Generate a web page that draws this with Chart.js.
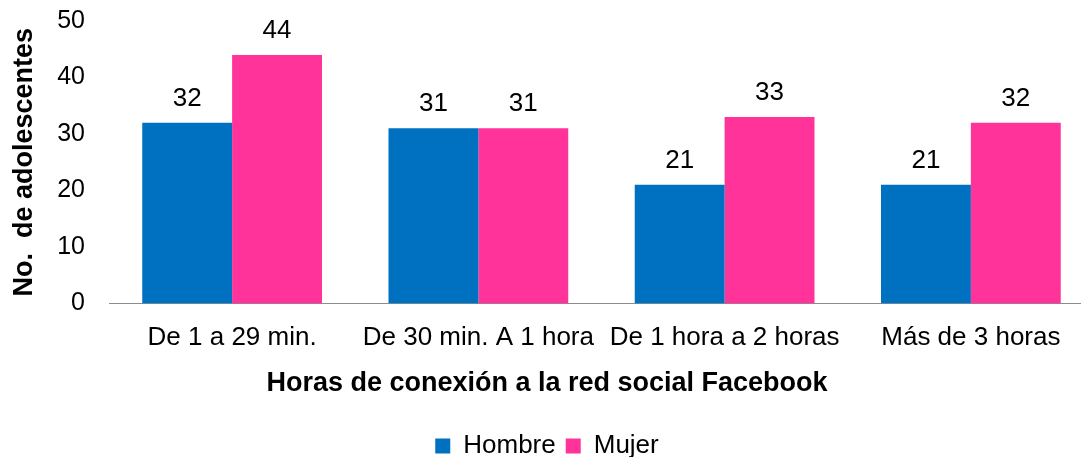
<!DOCTYPE html>
<html>
<head>
<meta charset="utf-8">
<script src="https://cdn.jsdelivr.net/npm/chart.js@4"></script>
<style>
    html, body { margin: 0; padding: 0; background: #fff; overflow: hidden; }
</style>
</head>
<body>
<canvas id="chart" width="1095" height="457"></canvas>
<script>
const categories = ['De 1 a 29 min.', 'De 30 min. A 1 hora', 'De 1 hora a 2 horas', 'Más de 3 horas'];
const hombreValues = [32, 31, 21, 21];
const mujerValues = [44, 31, 33, 32];
const yTicks = [0, 10, 20, 30, 40, 50];

const FONT = '"Liberation Sans", Arial, sans-serif';

// draws the number above each bar
const valueLabels = {
    id: 'valueLabels',
    afterDatasetsDraw(chart) {
        const ctx = chart.ctx;
        ctx.save();
        ctx.font = '26px ' + FONT;
        ctx.fillStyle = '#000';
        ctx.textAlign = 'center';
        ctx.textBaseline = 'alphabetic';
        chart.data.datasets.forEach((ds, i) => {
            chart.getDatasetMeta(i).data.forEach((bar, j) => {
                ctx.fillText(ds.data[j], bar.x, bar.y - 17);
            });
        });
        ctx.restore();
    }
};

new Chart(document.getElementById('chart').getContext('2d'), {
    type: 'bar',
    data: {
        labels: categories,
        datasets: [
            { label: 'Hombre', data: hombreValues, backgroundColor: '#0070C0', categoryPercentage: 0.73, barPercentage: 1 },
            { label: 'Mujer', data: mujerValues, backgroundColor: '#FF3399', categoryPercentage: 0.73, barPercentage: 1 }
        ]
    },
    options: {
        responsive: false,
        animation: false,
        layout: { padding: { top: 21, right: 1, left: 0, bottom: -12 } },
        scales: {
            x: {
                grid: { display: false },
                border: { display: true, color: '#8c8c8c', width: 1 },
                ticks: {
                    color: '#000', padding: 11, maxRotation: 0, autoSkip: false,
                    font: { family: FONT, size: 26 }
                }
            },
            y: {
                min: 0,
                max: 50,
                afterBuildTicks: axis => { axis.ticks = yTicks.map(v => ({ value: v })); },
                afterFit: axis => {
                    axis.width = 109;
                    axis.paddingTop = 0;
                    axis.paddingBottom = 0;
                },
                grid: { display: false },
                border: { display: false },
                ticks: {
                    color: '#000', padding: 16,
                    font: { family: FONT, size: 25 }
                },
                title: {
                    display: true,
                    text: 'No.  de adolescentes',
                    color: '#000',
                    padding: { top: 8, bottom: 18 },
                    font: { family: FONT, size: 27, weight: 'bold' }
                }
            }
        },
        plugins: {
            title: {
                display: true,
                position: 'bottom',
                weight: 500,
                text: 'Horas de conexión a la red social Facebook',
                color: '#000',
                padding: { top: 3, bottom: 23 },
                font: { family: FONT, size: 27, weight: 'bold' }
            },
            legend: {
                position: 'bottom',
                labels: {
                    color: '#000',
                    boxWidth: 15,
                    boxHeight: 15,
                    padding: 10,
                    font: { family: FONT, size: 26 }
                }
            },
            tooltip: { enabled: false }
        }
    },
    plugins: [valueLabels]
});
</script>
</body>
</html>
